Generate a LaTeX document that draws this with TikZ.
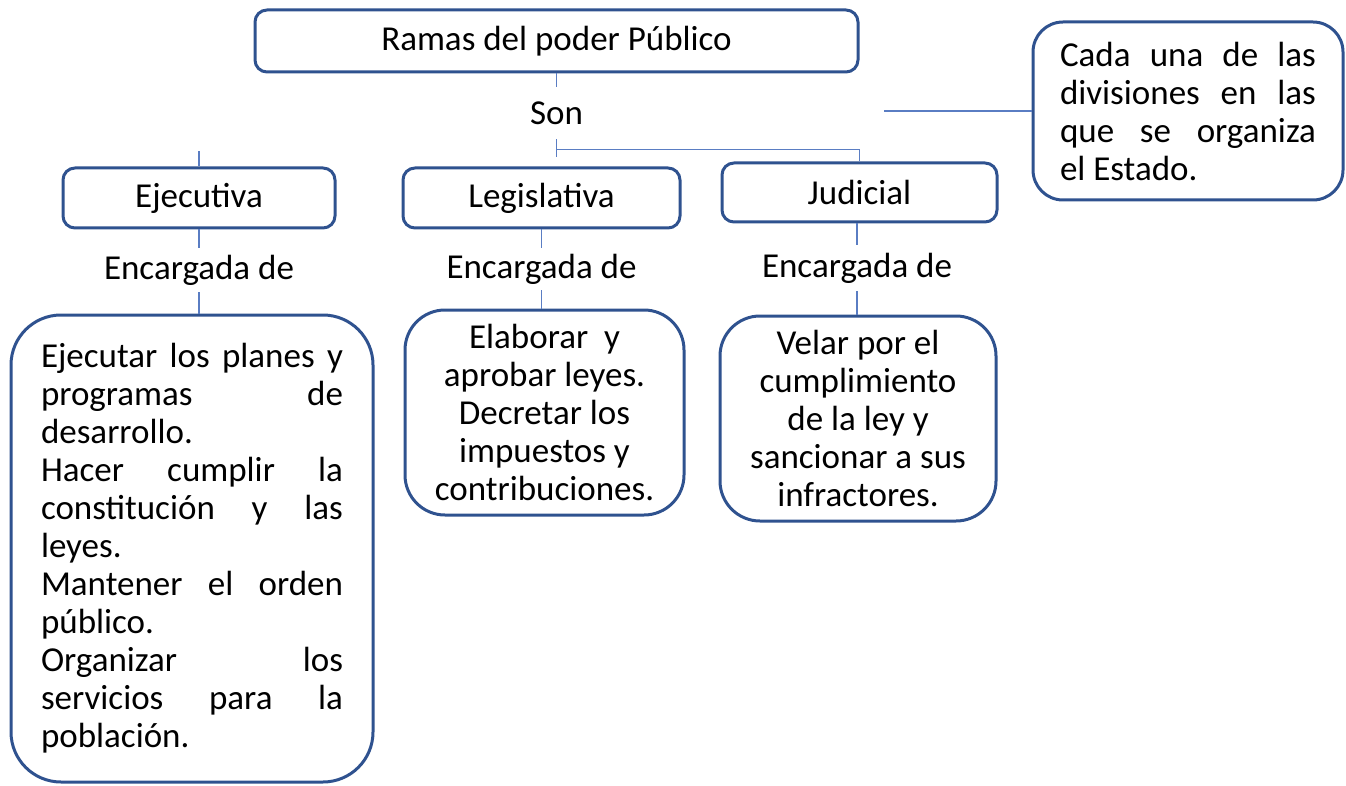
\documentclass[tikz,border=0pt]{standalone}
\usepackage{fontspec}
\setmainfont{Carlito}
\usetikzlibrary{positioning,calc}
\definecolor{boxcol}{RGB}{47,82,143}
\definecolor{linkcol}{RGB}{90,125,195}
\setlength\parindent{0pt}
\hyphenpenalty=10000
\exhyphenpenalty=10000
\tolerance=10000
\hbadness=10000

\begin{document}
\begin{tikzpicture}[
    x=1pt, y=-1pt,
    font=\fontsize{35}{38}\selectfont,
    box/.style={rectangle, rounded corners=12pt, draw=boxcol, line width=3pt, align=center, inner sep=0pt},
    bigbox/.style={box, rounded corners=42pt},
    lbl/.style={inner sep=0pt, minimum width=10pt},
    link/.style={draw=linkcol, line width=1.2pt},
]
\useasboundingbox (0,0) rectangle (1346,786);

% top
\node[box, minimum width=603pt, minimum height=62pt] (ramas) at (556.5,41) {Ramas del poder Público};
\node[lbl, minimum height=52pt] (son) at (556.5,113) {Son};
\node[bigbox, rounded corners=30pt, minimum width=310pt, minimum height=178pt, text width=256pt, align=justify] (cada) at (1188,111)
  {Cada una de las\linebreak divisiones en las\linebreak que se organiza\linebreak el Estado.};

% branches
\node[box, minimum width=272pt, minimum height=60pt] (ejecutiva) at (199,198) {Ejecutiva};
\node[box, minimum width=277pt, minimum height=60pt] (legislativa) at (541.5,198) {Legislativa};
\node[box, minimum width=275pt, minimum height=59pt] (judicial) at (859.5,192.5) {Judicial};

\node[lbl, minimum height=44pt] (enc1) at (199,270) {Encargada de};
\node[lbl, minimum height=42pt] (enc2) at (541.5,269) {Encargada de};
\node[lbl, minimum height=46pt] (enc3) at (857,268) {Encargada de};

% functions
\node[bigbox, rounded corners=50pt, minimum width=362pt, minimum height=467pt, text width=302pt, align=justify] (funcion1) at (192,548.5)
  {Ejecutar los planes y\linebreak programas de\linebreak desarrollo.\par
   Hacer cumplir la\linebreak constitución y las\linebreak leyes.\par
   Mantener el orden\linebreak público.\par
   Organizar los\linebreak servicios para la\linebreak población.};
\node[bigbox, rounded corners=40pt, minimum width=279pt, minimum height=205pt] (funcion2) at (544.5,412.5)
  {Elaborar~ y\\aprobar leyes.\\Decretar los\\impuestos y\\contribuciones.};
\node[bigbox, rounded corners=40pt, minimum width=276pt, minimum height=205pt] (funcion3) at (858,418.5)
  {Velar por el\\cumplimiento\\de la ley y\\sancionar a sus\\infractores.};

% connectors
\coordinate (split) at ($(son.south)+(0,10)$);
\coordinate (cadain) at (884,111);
\draw[link] (ramas) -- (son);
\draw[link] (son.south) -- ++(0,18);
\draw[link] (split) -| (judicial.north);
\draw[link] (ejecutiva.north) -- ++(0,-15);
\draw[link] (cadain) -- (cada.west);

\draw[link] (ejecutiva) -- (enc1);
\draw[link] (legislativa) -- (enc2);
\draw[link] (judicial.south -| enc3) -- (enc3);
\draw[link] (enc1.south) -- (enc1.south |- funcion1.north);
\draw[link] (enc2.south) -- (enc2.south |- funcion2.north);
\draw[link] (enc3.south) -- (enc3.south |- funcion3.north);
\end{tikzpicture}
\end{document}
